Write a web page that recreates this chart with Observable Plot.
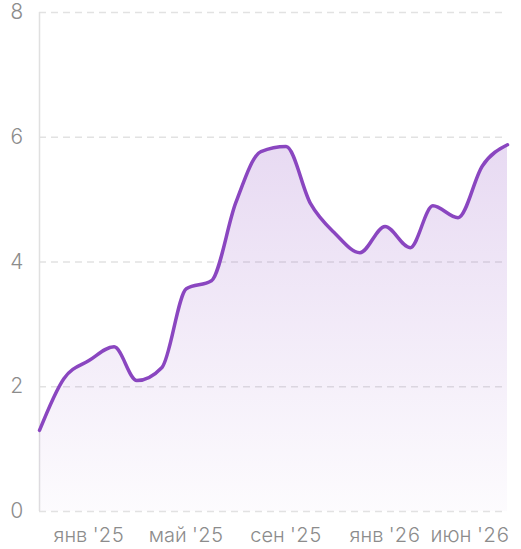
<!DOCTYPE html>
<html><head><meta charset="utf-8">
<script src="https://cdn.jsdelivr.net/npm/d3@7"></script>
<script src="https://cdn.jsdelivr.net/npm/@observablehq/plot@0.6"></script>
<style>
html,body{margin:0;padding:0;background:#fff;}
#chart svg{font-family:Inter,"Noto Sans",sans-serif;}
#chart svg text{font-weight:300;}
</style>
</head><body><div id="chart"></div>
<script>
const months = ["2024-11","2024-12","2025-01","2025-02","2025-03","2025-04","2025-05","2025-06","2025-07","2025-08",
                "2025-09","2025-10","2025-11","2025-12","2026-01","2026-02","2026-03","2026-04","2026-05","2026-06"];
const values = [1.30,2.13,2.42,2.64,2.10,2.31,3.57,3.70,4.95,5.77,
                5.85,4.94,4.45,4.15,4.57,4.23,4.90,4.71,5.54,5.88];
const tickMonths = ["2025-01","2025-05","2025-09","2026-01"];
const lastTickMonth = "2026-06";
const yTicks = [0,2,4,6,8];
const monthNames = ["янв","фев","мар","апр","май","июн","июл","авг","сен","окт","ноя","дек"];

const parse = s => new Date(s + "-01T00:00:00Z");
const data = months.map((m,i) => ({date: parse(m), value: values[i]}));
const fmt = d => `${monthNames[d.getUTCMonth()]} '${String(d.getUTCFullYear()).slice(2)}`;
const lineColor = "#8a46c0";

const defs = () => {
  const g = d3.create("svg:defs");
  const lg = g.append("linearGradient").attr("id","areaGrad").attr("x1",0).attr("y1",0).attr("x2",0).attr("y2",1);
  lg.append("stop").attr("offset","0%").attr("stop-color",lineColor).attr("stop-opacity",0.2);
  lg.append("stop").attr("offset","100%").attr("stop-color",lineColor).attr("stop-opacity",0.02);
  return g.node();
};

const chart = Plot.plot({
  width: 521,
  height: 549,
  marginLeft: 39,
  marginRight: 14,
  marginTop: 12,
  marginBottom: 38,
  style: {fontFamily: "Inter, 'Noto Sans', sans-serif", background: "#fff"},
  x: {type: "utc", domain: [data[0].date, data[data.length-1].date]},
  y: {domain: [0, 8]},
  marks: [
    defs,
    Plot.gridY(yTicks, {stroke: "#e2e2e2", strokeOpacity: 1, strokeDasharray: "7,5", strokeWidth: 1.5}),
    Plot.ruleX([data[0].date], {stroke: "#e0e0e0", strokeWidth: 1.5}),
    Plot.areaY(data, {x: "date", y: "value", curve: "monotone-x", fill: "url(#areaGrad)"}),
    Plot.lineY(data, {x: "date", y: "value", curve: "monotone-x", stroke: lineColor, strokeWidth: 3.5}),
    Plot.axisY(yTicks, {tickSize: 0, tickPadding: 16, fontSize: 21, color: "#8c8c8c", tickFormat: d => String(d), label: null}),
    Plot.axisX(tickMonths.map(parse), {tickSize: 0, tickPadding: 16, fontSize: 20, color: "#8c8c8c", tickFormat: fmt, label: null}),
    Plot.axisX([parse(lastTickMonth)], {tickSize: 0, tickPadding: 16, fontSize: 20.5, color: "#8c8c8c", tickFormat: fmt, textAnchor: "end", dx: 2, label: null})
  ]
});
document.getElementById("chart").appendChild(chart);
</script>
</body></html>
